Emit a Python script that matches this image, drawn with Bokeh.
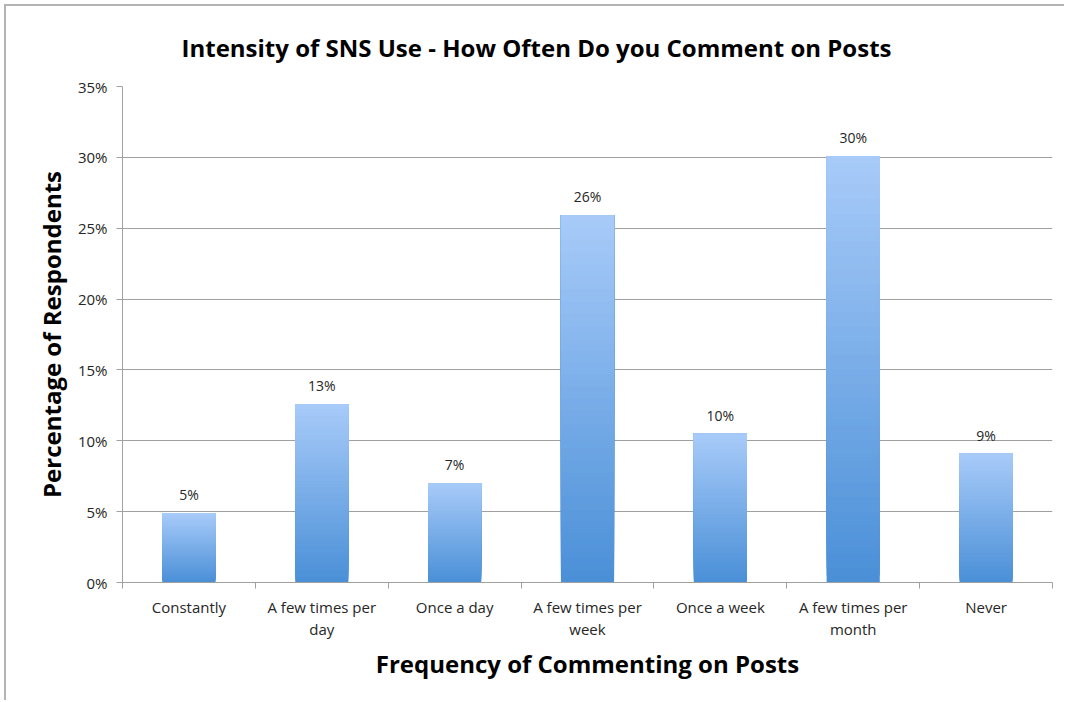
from bokeh.plotting import figure
from bokeh.models import Range1d, FixedTicker, PrintfTickFormatter, ColumnDataSource
from bokeh.core.properties import value
from bokeh.embed import file_html
from bokeh.resources import INLINE

categories = ["Constantly", "A few times per\nday", "Once a day", "A few times per\nweek",
              "Once a week", "A few times per\nmonth", "Never"]
percentages = [4.9, 12.6, 7.0, 25.9, 10.5, 30.1, 9.1]
value_labels = ["5%", "13%", "7%", "26%", "10%", "30%", "9%"]
y_ticks = [0, 5, 10, 15, 20, 25, 30, 35]

TITLE = "Intensity of SNS Use - How Often Do you Comment on Posts"
XLABEL = "Frequency of Commenting on Posts"
YLABEL = "Percentage of Respondents"
FONT = "Open Sans"

n = len(categories)
centers = [i + 0.5 for i in range(n)]

p = figure(width=1060, height=696, output_backend="svg", toolbar_location=None,
           x_range=Range1d(0, n), y_range=Range1d(0, 35),
           min_border_left=116, min_border_right=14, min_border_top=80, min_border_bottom=120,
           margin=(4, 0, 0, 4),
           styles={"border-top": "2px solid #b4b4b4", "border-left": "2px solid #b4b4b4",
                   "border-right": "0", "border-bottom": "0", "outline": "none",
                   "box-shadow": "none"})
p.outline_line_color = None
p.background_fill_color = "white"
p.border_fill_color = "white"

# gradient bars: overlapping slices per bar (each runs to the bar top)
top_rgb = (0xA8, 0xCB, 0xF9)
bot_rgb = (0x4A, 0x8F, 0xD7)
N = 60
xs, bots, tops, cols = [], [], [], []
for c, v in zip(centers, percentages):
    for k in range(N):
        t = (k + 0.5) / N
        rgb = tuple(int(round(b + (a - b) * t)) for a, b in zip(top_rgb, bot_rgb))
        xs.append(c)
        bots.append(v * k / N)
        tops.append(v)
        cols.append("#%02x%02x%02x" % rgb)
src = ColumnDataSource(dict(x=xs, bottom=bots, top=tops, color=cols))
p.vbar(x="x", bottom="bottom", top="top", width=0.4, fill_color="color", line_color=None, source=src)

# value labels
lsrc = ColumnDataSource(dict(x=centers, y=percentages, t=value_labels))
p.text(x="x", y="y", text="t", source=lsrc, text_align="center", text_baseline="bottom",
       y_offset=-9, text_font=value(FONT), text_font_size="14px", text_color="#262626")

# grid
p.xgrid.visible = False
p.ygrid.ticker = FixedTicker(ticks=y_ticks)
p.ygrid.grid_line_color = "#a0a0a0"
p.ygrid.grid_line_width = 1

# x axis
xa = p.xaxis[0]
xa.ticker = FixedTicker(ticks=centers, minor_ticks=list(range(n + 1)))
xa.major_label_overrides = {c: lab for c, lab in zip(centers, categories)}
xa.major_tick_out = 0
xa.major_tick_in = 0
xa.minor_tick_out = 6
xa.minor_tick_in = 0
xa.minor_tick_line_color = "#a0a0a0"
xa.axis_line_color = "#a0a0a0"
xa.major_label_text_font = FONT
xa.major_label_text_font_size = "15px"
xa.major_label_text_color = "#262626"
xa.major_label_text_line_height = 1.1
xa.major_label_standoff = 8
xa.axis_label = XLABEL
xa.axis_label_text_font = FONT
xa.axis_label_text_font_style = "bold"
xa.axis_label_text_font_size = "24px"
xa.axis_label_text_color = "black"
xa.axis_label_standoff = 5

# y axis
ya = p.yaxis[0]
ya.ticker = FixedTicker(ticks=y_ticks)
ya.formatter = PrintfTickFormatter(format="%d%%")
ya.major_tick_out = 6
ya.major_tick_in = 0
ya.minor_tick_out = 0
ya.minor_tick_in = 0
ya.major_tick_line_color = "#a0a0a0"
ya.axis_line_color = "#a0a0a0"
ya.major_label_text_font = FONT
ya.major_label_text_font_size = "15px"
ya.major_label_text_color = "#262626"
ya.major_label_standoff = 9
ya.axis_label = YLABEL
ya.axis_label_text_font = FONT
ya.axis_label_text_font_style = "bold"
ya.axis_label_text_font_size = "24px"
ya.axis_label_text_color = "black"
ya.axis_label_standoff = 7

# title
p.title.text = TITLE
p.title.text_font = FONT
p.title.text_font_style = "bold"
p.title.text_font_size = "24px"
p.title.text_color = "black"
p.title.align = "left"
p.title.vertical_align = "top"
p.title.offset = 59
p.title.standoff = 42

open("out.html", "w").write(file_html(p, INLINE))
